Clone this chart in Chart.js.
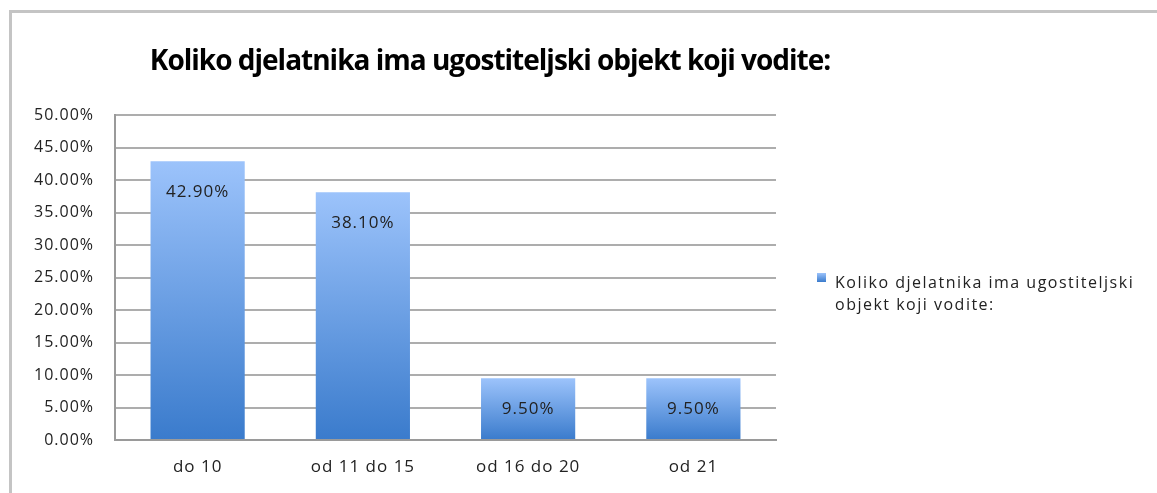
<!DOCTYPE html>
<html>
<head>
<meta charset="utf-8">
<script src="https://cdn.jsdelivr.net/npm/chart.js@4.4.1/dist/chart.umd.min.js"></script>
<style>
    html, body { margin: 0; padding: 0; background: #fff; overflow: hidden; }
    #wrap { position: relative; width: 1157px; height: 493px; }
    #frame { position: absolute; left: 9px; top: 10px; width: 1200px; height: 600px;
             border-left: 3px solid #c4c4c4; border-top: 3px solid #c4c4c4; }
    canvas { position: absolute; left: 0; top: 0; }
</style>
</head>
<body>
<div id="wrap">
    <div id="frame"></div>
    <canvas id="barChart" width="1157" height="493"></canvas>
</div>
<script>
// podaci
const categories = ['do 10', 'od 11 do 15', 'od 16 do 20', 'od 21'];
const values = [42.9, 38.1, 9.5, 9.5];
const yTicks = [0, 5, 10, 15, 20, 25, 30, 35, 40, 45, 50];
const titleText = 'Koliko djelatnika ima ugostiteljski objekt koji vodite:';
const legendLines = ['Koliko djelatnika ima ugostiteljski', 'objekt koji vodite:'];

const FONT = "'Open Sans', 'Noto Sans', sans-serif";

// gradijent za svaki stupac (svjetlije gore, tamnije dolje)
const barGradient = (context) => {
    const chart = context.chart;
    const area = chart.chartArea;
    if (!area || context.type !== 'data') return '#5a93e0';
    const top = chart.scales.y.getPixelForValue(context.parsed.y);
    const g = chart.ctx.createLinearGradient(0, top, 0, area.bottom);
    g.addColorStop(0, '#9cc3fb');
    g.addColorStop(1, '#3a7bcc');
    return g;
};

// razmak slova kao u originalu
const spacing = {
    id: 'spacing',
    beforeDraw(chart) {
        chart.ctx.letterSpacing = '1px';
    }
};

// naslov, oznake vrijednosti i legenda
const extras = {
    id: 'extras',
    afterDraw(chart) {
        const ctx = chart.ctx;
        const area = chart.chartArea;
        ctx.save();
        // naslov
        ctx.letterSpacing = '-1px';
        ctx.fillStyle = '#000';
        ctx.font = `bold 28px ${FONT}`;
        ctx.textAlign = 'center';
        ctx.textBaseline = 'middle';
        ctx.fillText(titleText, 490, 62);

        // vrijednosti na stupcima
        ctx.letterSpacing = '1px';
        ctx.font = `17px ${FONT}`;
        ctx.fillStyle = '#222';
        chart.getDatasetMeta(0).data.forEach((bar, i) => {
            ctx.fillText(values[i].toFixed(2) + '%', bar.x, bar.y + 31);
        });

        // legenda
        const lx = area.right + 41;
        const ly = 273;
        const g = ctx.createLinearGradient(0, ly, 0, ly + 9);
        g.addColorStop(0, '#9cc3fb');
        g.addColorStop(1, '#3a7bcc');
        ctx.fillStyle = g;
        ctx.fillRect(lx, ly, 9, 9);
        ctx.fillStyle = '#222';
        ctx.textAlign = 'left';
        ctx.letterSpacing = '1.5px';
        ctx.font = `16px ${FONT}`;
        legendLines.forEach((line, i) => {
            ctx.fillText(line, lx + 18, ly + 10 + i * 22);
        });
        ctx.restore();
    }
};

const ctx = document.getElementById('barChart');

new Chart(ctx, {
    type: 'bar',
    data: {
        labels: categories,
        datasets: [{
            label: titleText,
            data: values,
            backgroundColor: barGradient,
            borderWidth: 0,
            categoryPercentage: 0.57,
            barPercentage: 1.0,
        }]
    },
    options: {
        responsive: false,
        animation: false,
        devicePixelRatio: 1,
        layout: {
            padding: { left: 10, right: 381, top: 115, bottom: 0 }
        },
        plugins: {
            legend: { display: false },
            title: { display: false },
            tooltip: { enabled: false },
        },
        scales: {
            x: {
                afterFit: (scale) => { scale.height = 53; },
                grid: { display: false, drawTicks: false },
                border: { display: true, color: '#9a9a9a', width: 2 },
                ticks: {
                    color: '#222',
                    padding: 17,
                    font: { family: FONT, size: 17 },
                }
            },
            y: {
                min: 0,
                max: 50,
                afterBuildTicks: (scale) => {
                    scale.ticks = yTicks.map(v => ({ value: v }));
                },
                afterFit: (scale) => { scale.width = 105; },
                grid: { color: '#adadad', lineWidth: 2, drawTicks: false },
                border: { display: true, color: '#9a9a9a', width: 2 },
                ticks: {
                    color: '#222',
                    padding: 21,
                    font: { family: FONT, size: 16 },
                    callback: (v) => Number(v).toFixed(2) + '%',
                }
            }
        }
    },
    plugins: [spacing, extras]
});
</script>
</body>
</html>
